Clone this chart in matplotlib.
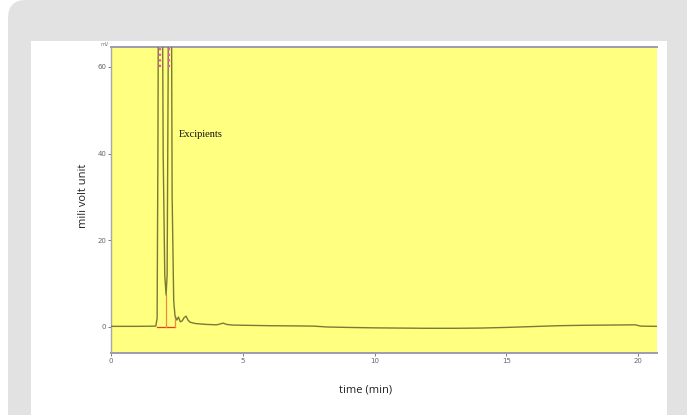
import numpy as np
import matplotlib
matplotlib.use("Agg")
import matplotlib.pyplot as plt
from matplotlib.patches import FancyBboxPatch, Rectangle
from matplotlib.transforms import IdentityTransform

# chromatogram (peaks go off the top)
t_min = [0.0, 1.0, 1.70, 1.75, 1.78, 1.82, 1.86, 1.92, 1.98, 2.04, 2.09,
         2.13, 2.17, 2.22, 2.27, 2.32, 2.38, 2.43, 2.50, 2.56, 2.63, 2.70,
         2.78, 2.85, 2.92, 3.00, 3.20, 3.60, 4.00, 4.15, 4.25, 4.38, 4.60,
         5.0, 6.0, 7.0, 7.7, 8.2, 9.0, 10.0, 11.0, 12.0, 13.0, 14.0, 15.0,
         16.0, 17.0, 18.0, 19.0, 19.9, 20.1, 20.72]
mv = [0.15, 0.15, 0.2, 2.0, 40.0, 120.0, 160.0, 120.0, 40.0, 12.0, 7.4,
      12.0, 60.0, 150.0, 120.0, 30.0, 6.0, 2.5, 1.6, 2.3, 1.2, 1.4,
      2.2, 2.5, 1.6, 1.1, 0.8, 0.6, 0.5, 0.7, 0.9, 0.6, 0.45,
      0.4, 0.3, 0.25, 0.2, 0.0, -0.1, -0.2, -0.25, -0.3, -0.3, -0.25, -0.1,
      0.1, 0.3, 0.4, 0.45, 0.5, 0.2, 0.15]

# integration baseline / drop lines
base_t = [1.75, 2.43]
drop_t = [2.09, 2.43]
drop_mv = [7.4, 2.5]
peak_marks = [1.86, 2.22]

xticks = [0, 5, 10, 15, 20]
yticks = [0, 20, 40, 60]

W, H = 687, 415
fig = plt.figure(figsize=(W / 100, H / 100), dpi=100)
fig.patch.set_facecolor("white")

# grey rounded card + white panel
fig.add_artist(FancyBboxPatch((8, -40), 720, 455, boxstyle="round,pad=0,rounding_size=18",
                              transform=IdentityTransform(), facecolor="#e2e2e2", edgecolor="none", zorder=0))
fig.add_artist(Rectangle((31, -10), 667 - 31, H - 41 + 10, transform=IdentityTransform(),
                         facecolor="white", edgecolor="none", zorder=0))

ax = fig.add_axes([111 / W, (H - 353) / H, (657 - 111) / W, (353 - 47) / H])
ax.set_facecolor("#ffff80")
ax.set_xlim(0, 20.72)
ax.set_ylim(-6.0, 64.6)

ax.plot(t_min, mv, color="#7a7a38", lw=1.0, zorder=3)
ax.plot(base_t, [0, 0], color="#f03c1e", lw=0.9, zorder=2)
for x, y in zip(drop_t, drop_mv):
    ax.plot([x, x], [0, y], color="#f08a3c", lw=0.9, zorder=2)
for x in peak_marks:
    ax.plot([x, x], [60.0, 64.6], color="#f050c8", lw=1.6, ls=(0, (1, 1.5)), zorder=4)

ax.text(2.58, 44.5, "Excipients", family="Liberation Serif", fontsize=7.5, color="#111111", va="center")

ax.set_xticks(xticks)
ax.set_yticks(yticks)
ax.tick_params(labelsize=5, colors="#666666", length=2, width=0.6, pad=1.5)
ax.spines["right"].set_visible(False)
ax.spines["left"].set_color("#a8a8a8")
ax.spines["left"].set_linewidth(1.0)
ax.spines["top"].set_color("#9c9cb0")
ax.spines["top"].set_linewidth(1.4)
ax.spines["bottom"].set_color("#9c9cb0")
ax.spines["bottom"].set_linewidth(1.4)

fig.text(105 / W, (H - 45) / H, "mV", fontsize=3.5, color="#777777", ha="center", va="center")
fig.text(83 / W, (H - 196) / H, "mili volt unit", rotation=90, family="Open Sans",
         fontsize=8, color="#222222", ha="center", va="center")
fig.text(366 / W, (H - 390) / H, "time (min)", family="Open Sans",
         fontsize=8, color="#222222", ha="center", va="center")

fig.savefig("out.png", dpi=100)
